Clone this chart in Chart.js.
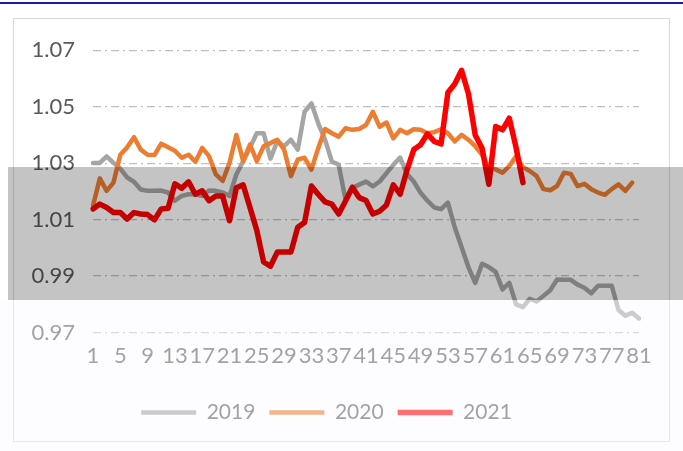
<!DOCTYPE html>
<html>
<head>
<meta charset="utf-8">
<script src="https://cdn.jsdelivr.net/npm/chart.js@4.4.0/dist/chart.umd.min.js"></script>
<style>
  html, body { margin: 0; padding: 0; background: #fff; }
  body { width: 683px; height: 451px; position: relative; overflow: hidden; }
  .topline { position: absolute; left: 0; top: 2px; width: 683px; height: 2px; background: #1c1ca6; }
  .frame { position: absolute; left: 13px; top: 18px; width: 657px; height: 424px; box-sizing: border-box; border: 1px solid #d9d9d9; }
  .band { position: absolute; left: 8px; top: 167px; width: 675px; height: 133px; background: #c4c4c4; mix-blend-mode: multiply; pointer-events: none; }
  .wash { position: absolute; left: 0; top: 300px; width: 683px; height: 151px; background: rgba(251, 249, 255, 0.45); pointer-events: none; }
</style>
</head>
<body>
<div class="topline"></div>
<div class="frame"><canvas id="indexChart"></canvas></div>
<div class="band"></div>
<div class="wash"></div>
<script>
// week numbers on the x axis
const weeks = Array.from({ length: 81 }, (_, i) => String(i + 1));
const yTicks = [0.97, 0.99, 1.01, 1.03, 1.05, 1.07];
const seriesNames = ['2019', '2020', '2021'];

const values2019 = [
    1.0301, 1.0301, 1.0324, 1.0301, 1.0281, 1.0250, 1.0234, 1.0207, 1.0202, 1.0202,
    1.0203, 1.0196, 1.0167, 1.0184, 1.0190, 1.0190, 1.0184, 1.0203, 1.0202, 1.0196,
    1.0184, 1.0260, 1.0307, 1.0355, 1.0406, 1.0406, 1.0316, 1.0377, 1.0360, 1.0383,
    1.0348, 1.0482, 1.0512, 1.0441, 1.0383, 1.0306, 1.0294, 1.0171, 1.0212, 1.0224,
    1.0235, 1.0218, 1.0235, 1.0265, 1.0294, 1.0320, 1.0262, 1.0235, 1.0195, 1.0167,
    1.0143, 1.0137, 1.0160, 1.0073, 1.0003, 0.9932, 0.9876, 0.9944, 0.9932, 0.9915,
    0.9853, 0.9876, 0.9800, 0.9790, 0.9820, 0.9810, 0.9830, 0.9850, 0.9888, 0.9887,
    0.9887, 0.9870, 0.9859, 0.9839, 0.9866, 0.9866, 0.9866, 0.9780, 0.9760, 0.9770,
    0.9750
];

const values2020 = [
    1.0149, 1.0246, 1.0202, 1.0231, 1.0330, 1.0356, 1.0392, 1.0348, 1.0330, 1.0329,
    1.0369, 1.0356, 1.0344, 1.0319, 1.0330, 1.0305, 1.0354, 1.0325, 1.0260, 1.0237,
    1.0301, 1.0400, 1.0307, 1.0366, 1.0307, 1.0360, 1.0371, 1.0383, 1.0348, 1.0254,
    1.0313, 1.0319, 1.0277, 1.0353, 1.0421, 1.0406, 1.0394, 1.0424, 1.0418, 1.0421,
    1.0435, 1.0482, 1.0429, 1.0444, 1.0388, 1.0418, 1.0406, 1.0420, 1.0418, 1.0406,
    1.0410, 1.0420, 1.0406, 1.0377, 1.0400, 1.0383, 1.0360, 1.0330, 1.0283, 1.0278,
    1.0266, 1.0290, 1.0325, 1.0286, 1.0272, 1.0254, 1.0208, 1.0204, 1.0219, 1.0266,
    1.0262, 1.0219, 1.0227, 1.0208, 1.0196, 1.0188, 1.0208, 1.0225, 1.0202, 1.0231
];

const values2021 = [
    1.0138, 1.0155, 1.0143, 1.0125, 1.0125, 1.0102, 1.0125, 1.0120, 1.0118, 1.0099,
    1.0138, 1.0140, 1.0227, 1.0211, 1.0234, 1.0190, 1.0202, 1.0167, 1.0184, 1.0184,
    1.0096, 1.0213, 1.0223, 1.0143, 1.0062, 0.9950, 0.9935, 0.9985, 0.9985, 0.9985,
    1.0073, 1.0090, 1.0219, 1.0190, 1.0163, 1.0155, 1.0120, 1.0166, 1.0215, 1.0178,
    1.0168, 1.0120, 1.0130, 1.0152, 1.0223, 1.0190, 1.0275, 1.0348, 1.0365, 1.0404,
    1.0377, 1.0368, 1.0550, 1.0580, 1.0629, 1.0547, 1.0400, 1.0354, 1.0225, 1.0430,
    1.0418, 1.0459, 1.0354, 1.0231
];

const textColor = '#595959';
Chart.defaults.font.family = 'Lato, sans-serif';
Chart.defaults.font.size = 22;
Chart.defaults.color = textColor;

const ctx = document.getElementById('indexChart').getContext('2d');
const chart = new Chart(ctx, {
    type: 'line',
    data: {
        labels: weeks,
        datasets: [
            {
                label: seriesNames[0],
                data: values2019,
                borderColor: '#a5a5a5',
                backgroundColor: '#a5a5a5',
                borderWidth: 4.5,
                order: 3
            },
            {
                label: seriesNames[1],
                data: values2020,
                borderColor: '#ed7d31',
                backgroundColor: '#ed7d31',
                borderWidth: 4.5,
                order: 2
            },
            {
                label: seriesNames[2],
                data: values2021,
                borderColor: '#ff0000',
                backgroundColor: '#ff0000',
                borderWidth: 5.5,
                order: 1
            }
        ]
    },
    options: {
        responsive: true,
        maintainAspectRatio: false,
        animation: false,
        layout: {
            padding: { left: 0, right: 30, top: 28, bottom: 8 }
        },
        elements: {
            point: { radius: 0 },
            line: { tension: 0, borderJoinStyle: 'round', borderCapStyle: 'round' }
        },
        plugins: {
            tooltip: { enabled: false },
            legend: {
                position: 'bottom',
                labels: {
                    usePointStyle: true,
                    pointStyle: 'line',
                    pointStyleWidth: 55,
                    padding: 14,
                    color: textColor,
                    font: { size: 21 },
                    sort: (a, b) => a.datasetIndex - b.datasetIndex
                }
            }
        },
        scales: {
            x: {
                grid: { display: false, drawTicks: false },
                border: { display: false },
                afterFit: (scale) => { scale.height += 9; },
                ticks: {
                    autoSkip: false,
                    maxRotation: 0,
                    padding: 10,
                    callback: (value, index) => (index % 4 === 0 ? weeks[index] : '')
                }
            },
            y: {
                min: 0.97,
                max: 1.07,
                afterFit: (scale) => { scale.width = 79; },
                afterBuildTicks: (scale) => { scale.ticks = yTicks.map(v => ({ value: v })); },
                grid: { color: '#bfbfbf', lineWidth: 1.3, drawTicks: false },
                border: { display: false, dash: [8, 4, 2, 4] },
                ticks: {
                    padding: 18,
                    callback: (value) => Number(value).toFixed(2)
                }
            }
        }
    }
});
</script>
</body>
</html>
